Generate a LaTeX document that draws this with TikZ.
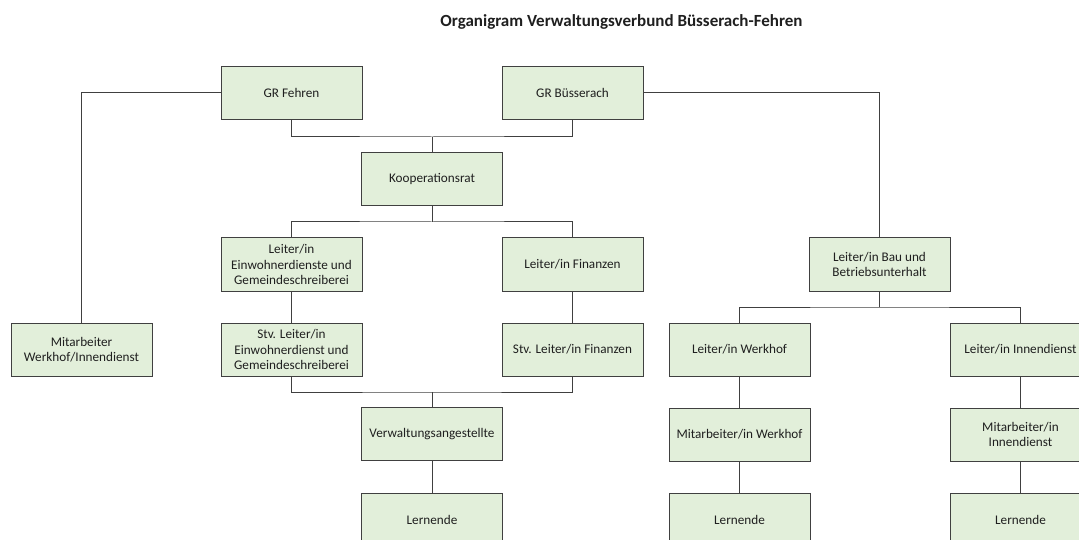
\documentclass[tikz,border=0pt]{standalone}
\usepackage{fontspec}
\setmainfont{Carlito}
\definecolor{boxfill}{HTML}{E2EFDA}
\definecolor{boxline}{HTML}{404040}
\definecolor{txt}{HTML}{1F1F1F}
\begin{document}
\begin{tikzpicture}[x=1pt,y=-1pt,
  orgbox/.style={draw=boxline, fill=boxfill, line width=1pt, rectangle,
    minimum width=141pt, minimum height=53pt, inner sep=2pt, align=center,
    text=txt, font=\fontsize{13.2}{15.5}\selectfont},
  link/.style={draw=boxline, line width=1pt}]
\useasboundingbox (0,0) rectangle (1079,540);
\clip (0,0) rectangle (1079,540);
\fill[white] (0,0) rectangle (1079,540);
\node[font=\fontsize{17}{20}\selectfont\bfseries, text=txt] (title) at (621.5,22) {Organigram Verwaltungsverbund Büsserach-Fehren};

\node[orgbox] (fehren) at (291.5,93) {GR Fehren};
\node[orgbox] (buss) at (572.5,93) {GR Büsserach};
\node[orgbox] (koop) at (432,179.5) {Kooperationsrat};
\node[orgbox] (leinw) at (291.5,264.5) {Leiter/in\\Einwohnerdienste und\\Gemeindeschreiberei};
\node[orgbox] (lfin) at (572.5,264.5) {Leiter/in Finanzen};
\node[orgbox] (mwi) at (81.5,349.5) {Mitarbeiter\\Werkhof/Innendienst};
\node[orgbox] (stvein) at (291.5,349.5) {Stv. Leiter/in\\Einwohnerdienst und\\Gemeindeschreiberei};
\node[orgbox] (stvfin) at (572.5,349.5) {Stv. Leiter/in Finanzen};
\node[orgbox] (verw) at (432,434) {Verwaltungsangestellte};
\node[orgbox] (lern1) at (432,519.5) {Lernende};
\node[orgbox] (bau) at (879.5,264.5) {Leiter/in Bau und\\Betriebsunterhalt};
\node[orgbox] (lwerk) at (739.5,349.5) {Leiter/in Werkhof};
\node[orgbox] (linn) at (1020.5,349.5) {Leiter/in Innendienst};
\node[orgbox] (mwerk) at (739.5,434.5) {Mitarbeiter/in Werkhof};
\node[orgbox] (minn) at (1020.5,434.5) {Mitarbeiter/in\\Innendienst};
\node[orgbox] (lern2) at (739.5,519.5) {Lernende};
\node[orgbox] (lern3) at (1020.5,519.5) {Lernende};

\coordinate (t1) at (432,137);
\coordinate (t2) at (432,222);
\coordinate (t3) at (432,392);
\coordinate (t4) at (879.5,307);

\draw[link] (fehren.south) |- (t1) -| (buss.south);
\draw[link] (t1) -- (koop.north);
\draw[link] (fehren.west) -| (mwi.north);
\draw[link] (buss.east) -| (bau.north);
\draw[link] (koop.south) -- (t2);
\draw[link] (leinw.north) |- (t2) -| (lfin.north);
\draw[link] (leinw.south) -- (stvein.north);
\draw[link] (lfin.south) -- (stvfin.north);
\draw[link] (stvein.south) |- (t3) -| (stvfin.south);
\draw[link] (t3) -- (verw.north);
\draw[link] (verw.south) -- (lern1.north);
\draw[link] (bau.south) -- (t4);
\draw[link] (lwerk.north) |- (t4) -| (linn.north);
\draw[link] (lwerk.south) -- (mwerk.north);
\draw[link] (mwerk.south) -- (lern2.north);
\draw[link] (linn.south) -- (minn.north);
\draw[link] (minn.south) -- (lern3.north);
\end{tikzpicture}
\end{document}
